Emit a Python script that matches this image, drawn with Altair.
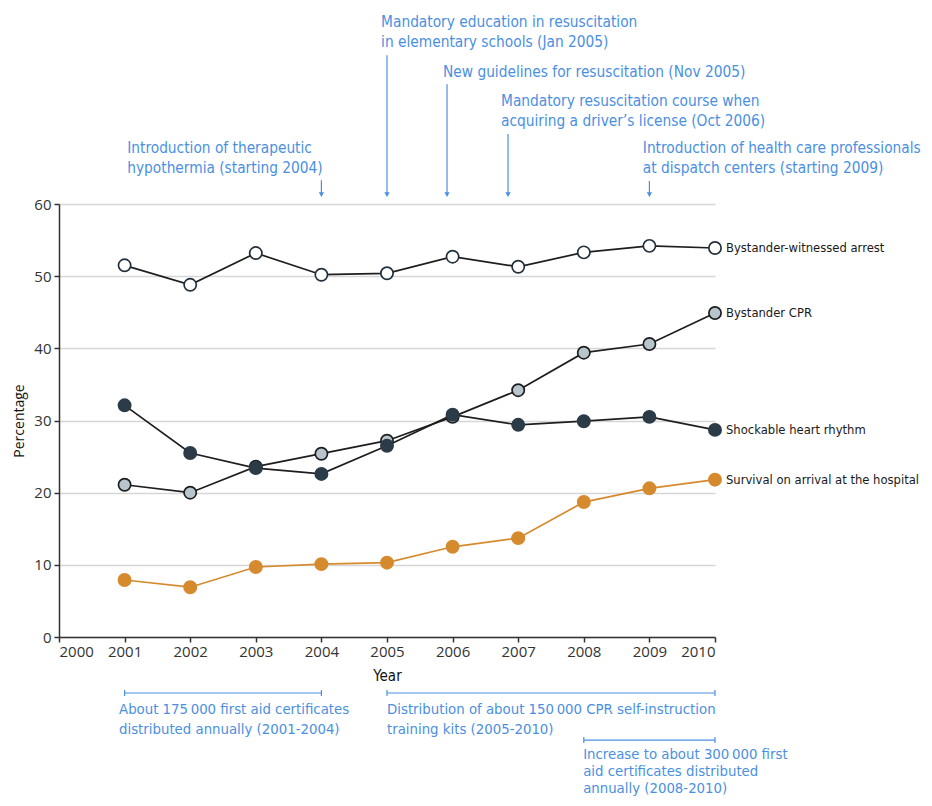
import altair as alt
import pandas as pd

# ---------------- data ----------------
years = list(range(2001, 2011))
witnessed = [51.5, 48.8, 53.2, 50.2, 50.4, 52.7, 51.3, 53.3, 54.2, 53.9]
cpr = [21.1, 20.0, 23.6, 25.4, 27.2, 30.5, 34.2, 39.4, 40.6, 44.9]
shockable = [32.1, 25.5, 23.4, 22.6, 26.5, 30.8, 29.4, 29.9, 30.5, 28.7]
survival = [7.9, 6.9, 9.7, 10.1, 10.3, 12.5, 13.7, 18.7, 20.6, 21.8]

series_names = ["Bystander-witnessed arrest", "Bystander CPR",
                "Shockable heart rhythm", "Survival on arrival at the hospital"]
series_values = [witnessed, cpr, shockable, survival]
line_colors = ["#1e1e1e", "#1e1e1e", "#1e1e1e", "#d68a2e"]
line_widths = [1.7, 1.7, 1.7, 2.4]
fill_colors = ["#ffffff", "#b8c5cd", "#2b3b48", "#d68a2e"]
stroke_colors = ["#22313d", "#1e1e1e", "#2b3b48", "#d68a2e"]

x_ticks = list(range(2000, 2011))
y_ticks = [0, 10, 20, 30, 40, 50, 60]

# event arrows (top): year, arrow top (in percent units above the plot)
event_years = [2004.0, 2005.0, 2005.915, 2006.845, 2009.0]
event_arrow_top = [63.3, 80.6, 76.6, 69.7, 63.2]
event_arrow_end = 61.3

# event texts (top)
event_text_x = [2001.04, 2001.04, 2004.91, 2004.91, 2005.854, 2006.738, 2006.738, 2008.90, 2008.90]
event_text_y = [67.8, 65.0, 85.2, 82.4, 78.3, 74.3, 71.5, 67.8, 65.0]
event_text = [
    "Introduction of therapeutic",
    "hypothermia (starting 2004)",
    "Mandatory education in resuscitation",
    "in elementary schools (Jan 2005)",
    "New guidelines for resuscitation (Nov 2005)",
    "Mandatory resuscitation course when",
    "acquiring a driver\u2019s license (Oct 2006)",
    "Introduction of health care professionals",
    "at dispatch centers (starting 2009)",
]

# programme ranges (bottom)
range_start = [2001, 2005, 2008]
range_end = [2004, 2010, 2010]
range_level = [-7.76, -7.76, -14.28]
cap_half = 0.42

range_text_x = [2000.915, 2000.915, 2005.0, 2005.0, 2007.99, 2007.99, 2007.99]
range_text_y = [-10.1, -12.9, -10.1, -12.9, -16.31, -18.66, -21.02]
range_text = [
    "About 175\u2009000 first aid certificates",
    "distributed annually (2001-2004)",
    "Distribution of about 150\u2009000 CPR self-instruction",
    "training kits (2005-2010)",
    "Increase to about 300\u2009000 first",
    "aid certificates distributed",
    "annually (2008-2010)",
]

# ---------------- tables ----------------
rows = []
for name, vals in zip(series_names, series_values):
    for yr, v in zip(years, vals):
        rows.append({"year": yr, "value": v, "series": name})
df = pd.DataFrame(rows)

df_last = pd.DataFrame({"year": [years[-1]] * 4,
                        "value": [v[-1] for v in series_values],
                        "series": series_names})

df_arrows = pd.DataFrame({"x": event_years, "y": event_arrow_top,
                          "y2": [event_arrow_end] * len(event_years)})
df_heads = pd.DataFrame({"x": event_years, "y": [event_arrow_end] * len(event_years)})
df_event_text = pd.DataFrame({"x": event_text_x, "y": event_text_y, "t": event_text})

df_ranges = pd.DataFrame({"x": range_start, "x2": range_end, "y": range_level})
cap_rows = []
for s, e, lv in zip(range_start, range_end, range_level):
    for xx in (s, e):
        cap_rows.append({"x": xx, "y": lv - cap_half, "y2": lv + cap_half})
df_caps = pd.DataFrame(cap_rows)
df_range_text = pd.DataFrame({"x": range_text_x, "y": range_text_y, "t": range_text})

# ---------------- encodings ----------------
BLUE = "#4a90e2"
NARROW = "'Liberation Sans Narrow', 'DejaVu Sans Condensed', 'Roboto Condensed', 'Arial Narrow', sans-serif"
AXISFONT = "'Open Sans', 'Noto Sans', sans-serif"

xscale = alt.Scale(domain=[2000, 2010], nice=False, zero=False)
yscale = alt.Scale(domain=[0, 60], nice=False, zero=True)

x_axis = alt.Axis(values=x_ticks, format="d", title="Year", grid=False,
                  labelFontSize=15, labelColor="#333333", labelFont=AXISFONT,
                  titleFontSize=15, titleFont=NARROW, titleFontWeight="normal",
                  titleColor="#111111", titlePadding=9,
                  domainColor="#333333", domainWidth=1.5,
                  tickColor="#333333", tickWidth=1.5, tickSize=5, labelPadding=2)
y_axis = alt.Axis(values=y_ticks, title="Percentage", grid=True,
                  gridColor="#d6d6d6", gridWidth=1.5,
                  labelFontSize=15, labelColor="#333333", labelFont=AXISFONT,
                  titleFontSize=14, titleFont=AXISFONT, titleFontWeight="normal",
                  titleColor="#111111", titlePadding=7,
                  domainColor="#333333", domainWidth=1.5,
                  tickColor="#333333", tickWidth=1.5, tickSize=5, labelPadding=3)


def X(field):
    return alt.X(field, type="quantitative", scale=xscale, axis=x_axis)


def Y(field):
    return alt.Y(field, type="quantitative", scale=yscale, axis=y_axis)


color_line = alt.Color("series:N", scale=alt.Scale(domain=series_names, range=line_colors), legend=None)
width_line = alt.StrokeWidth("series:N", scale=alt.Scale(domain=series_names, range=line_widths), legend=None)
fill_enc = alt.Fill("series:N", scale=alt.Scale(domain=series_names, range=fill_colors), legend=None)
stroke_enc = alt.Stroke("series:N", scale=alt.Scale(domain=series_names, range=stroke_colors), legend=None)

lines = alt.Chart(df).mark_line().encode(
    x=X("year"), y=Y("value"), color=color_line, strokeWidth=width_line,
)

points = alt.Chart(df).mark_point(shape="circle", filled=True, opacity=1, size=150, strokeWidth=1.7).encode(
    x=X("year"), y=Y("value"), fill=fill_enc, stroke=stroke_enc,
)

labels = alt.Chart(df_last).mark_text(align="left", baseline="middle", dx=11, fontSize=12.9,
                                      font=NARROW, color="#1a1a1a").encode(
    x=X("year"), y=Y("value"), text="series:N",
)

arrows = alt.Chart(df_arrows).mark_rule(color=BLUE, strokeWidth=1.2).encode(
    x=X("x"), y=Y("y"), y2="y2",
)
heads = alt.Chart(df_heads).mark_point(shape="triangle-down", filled=True, opacity=1,
                                       size=28, color=BLUE).encode(
    x=X("x"), y=Y("y"),
)
event_texts = alt.Chart(df_event_text).mark_text(align="left", baseline="middle", fontSize=15.3,
                                                 font=NARROW, color=BLUE).encode(
    x=X("x"), y=Y("y"), text="t:N",
)

ranges = alt.Chart(df_ranges).mark_rule(color=BLUE, strokeWidth=1.2).encode(
    x=X("x"), x2="x2", y=Y("y"),
)
caps = alt.Chart(df_caps).mark_rule(color=BLUE, strokeWidth=1.2).encode(
    x=X("x"), y=Y("y"), y2="y2",
)
range_texts = alt.Chart(df_range_text).mark_text(align="left", baseline="middle", fontSize=14.8,
                                                 font=NARROW, color=BLUE).encode(
    x=X("x"), y=Y("y"), text="t:N",
)

chart = alt.layer(
    lines, points, labels, arrows, heads, event_texts, ranges, caps, range_texts
).properties(
    width=656, height=433,
    autosize=alt.AutoSizeParams(type="none"),
    padding={"left": 51, "top": 196, "right": 209, "bottom": 161},
    background="white",
).resolve_scale(color="independent", fill="independent", stroke="independent").configure_view(stroke=None)

chart.save("out.html", embed_options={"renderer": "svg", "actions": False})
